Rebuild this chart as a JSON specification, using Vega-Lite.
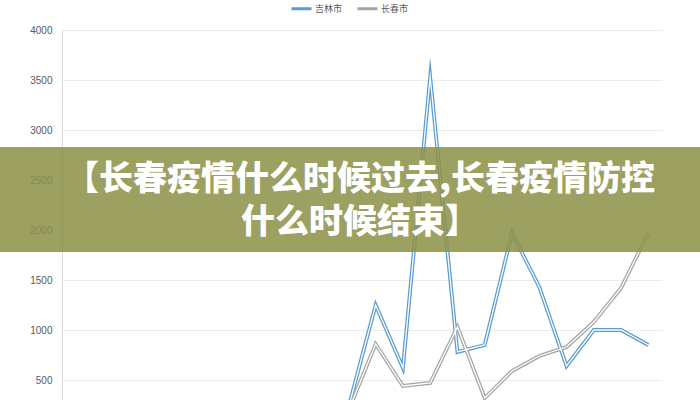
{
  "$schema": "https://vega.github.io/schema/vega-lite/v6.json",
  "width": 600,
  "height": 370,
  "autosize": {"type": "none"},
  "padding": {"left": 62, "top": 30, "right": 38, "bottom": 0},
  "background": "white",
  "config": {"view": {"stroke": null}, "font": "Noto Sans CJK SC"},
  "datasets": {
    "cases": [
      {"day": 1, "city": "吉林市", "cases": 0},
      {"day": 2, "city": "吉林市", "cases": 0},
      {"day": 3, "city": "吉林市", "cases": 1},
      {"day": 4, "city": "吉林市", "cases": 2},
      {"day": 5, "city": "吉林市", "cases": 6},
      {"day": 6, "city": "吉林市", "cases": 12},
      {"day": 7, "city": "吉林市", "cases": 25},
      {"day": 8, "city": "吉林市", "cases": 60},
      {"day": 9, "city": "吉林市", "cases": 110},
      {"day": 10, "city": "吉林市", "cases": 170},
      {"day": 11, "city": "吉林市", "cases": 220},
      {"day": 12, "city": "吉林市", "cases": 1250},
      {"day": 13, "city": "吉林市", "cases": 620},
      {"day": 14, "city": "吉林市", "cases": 3530},
      {"day": 15, "city": "吉林市", "cases": 780},
      {"day": 16, "city": "吉林市", "cases": 850},
      {"day": 17, "city": "吉林市", "cases": 1970},
      {"day": 18, "city": "吉林市", "cases": 1430},
      {"day": 19, "city": "吉林市", "cases": 640},
      {"day": 20, "city": "吉林市", "cases": 1000},
      {"day": 21, "city": "吉林市", "cases": 1000},
      {"day": 22, "city": "吉林市", "cases": 850},
      {"day": 1, "city": "长春市", "cases": 0},
      {"day": 2, "city": "长春市", "cases": 2},
      {"day": 3, "city": "长春市", "cases": 5},
      {"day": 4, "city": "长春市", "cases": 8},
      {"day": 5, "city": "长春市", "cases": 12},
      {"day": 6, "city": "长春市", "cases": 20},
      {"day": 7, "city": "长春市", "cases": 30},
      {"day": 8, "city": "长春市", "cases": 60},
      {"day": 9, "city": "长春市", "cases": 100},
      {"day": 10, "city": "长春市", "cases": 150},
      {"day": 11, "city": "长春市", "cases": 190},
      {"day": 12, "city": "长春市", "cases": 860},
      {"day": 13, "city": "长春市", "cases": 440},
      {"day": 14, "city": "长春市", "cases": 470},
      {"day": 15, "city": "长春市", "cases": 1030},
      {"day": 16, "city": "长春市", "cases": 320},
      {"day": 17, "city": "长春市", "cases": 590},
      {"day": 18, "city": "长春市", "cases": 740},
      {"day": 19, "city": "长春市", "cases": 830},
      {"day": 20, "city": "长春市", "cases": 1080},
      {"day": 21, "city": "长春市", "cases": 1420},
      {"day": 22, "city": "长春市", "cases": 1970}
    ]
  },
  "layer": [
    {
      "data": {"name": "cases"},
      "mark": {"type": "line", "strokeWidth": 3.8, "clip": true, "strokeJoin": "miter", "strokeMiterLimit": 20},
      "encoding": {
        "x": {"field": "day", "type": "quantitative", "scale": {"domain": [0.5, 22.5], "nice": false, "zero": false}, "axis": null},
        "y": {
          "field": "cases", "type": "quantitative",
          "scale": {"domain": [300, 4000], "nice": false, "zero": false},
          "axis": {
            "values": [500, 1000, 1500, 2000, 2500, 3000, 3500, 4000],
            "format": "d",
            "title": null, "ticks": false, "labelPadding": 10,
            "labelFont": "Liberation Sans", "labelFontSize": 10, "labelColor": "#595959",
            "gridColor": "#EBEBEB", "domainColor": "#D9D9D9"
          }
        },
        "color": {
          "field": "city", "type": "nominal",
          "scale": {"domain": ["吉林市", "长春市"], "range": ["#5B9BD5", "#A5A5A5"]},
          "legend": {
            "title": null, "orient": "none", "direction": "horizontal",
            "legendX": 228, "legendY": -33,
            "symbolType": "stroke", "symbolSize": 400, "symbolStrokeWidth": 3,
            "labelFont": "Noto Sans CJK SC", "labelFontSize": 9, "labelColor": "#595959",
            "labelOffset": 2, "columnPadding": 8
          }
        }
      }
    },
    {
      "data": {"name": "cases"},
      "mark": {"type": "line", "strokeWidth": 1.3, "clip": true, "color": "#FFFFFF", "strokeJoin": "miter", "strokeMiterLimit": 20},
      "encoding": {
        "x": {"field": "day", "type": "quantitative"},
        "y": {"field": "cases", "type": "quantitative"},
        "detail": {"field": "city", "type": "nominal"}
      }
    },
    {
      "data": {"values": [{}]},
      "mark": {"type": "rect", "fill": "#8C9046", "opacity": 0.86},
      "encoding": {
        "x": {"datum": -1.8, "type": "quantitative"},
        "x2": {"datum": 23.95},
        "y": {"datum": 2830, "type": "quantitative"},
        "y2": {"datum": 1780}
      }
    },
    {
      "data": {"values": [{}]},
      "mark": {
        "type": "text", "font": "Noto Sans CJK SC", "fontSize": 34, "fontWeight": 900,
        "color": "#FFFFFF", "align": "center", "baseline": "middle", "lineHeight": 43
      },
      "encoding": {
        "x": {"datum": 11.43, "type": "quantitative"},
        "y": {"datum": 2500, "type": "quantitative"},
        "text": {"value": ["【长春疫情什么时候过去,长春疫情防控", "什么时候结束】"]}
      }
    }
  ]
}
